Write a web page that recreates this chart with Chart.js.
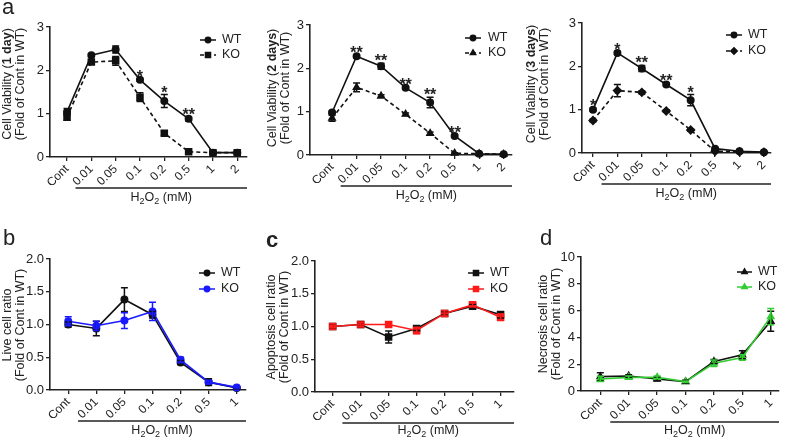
<!DOCTYPE html>
<html>
<head>
<meta charset="utf-8">
<title>Cell viability after H2O2 – WT vs KO</title>
<script src="https://cdn.jsdelivr.net/npm/chart.js@4.4.1/dist/chart.umd.min.js"></script>
<style>
  body { margin: 0; background: #fff; }
  #fig { position: relative; width: 786px; height: 440px; }
  #fig canvas { position: absolute; }
</style>
</head>
<body>
<div id="fig">
  <canvas id="day1" width="262" height="220" style="left:0;top:0"></canvas>
  <canvas id="day2" width="262" height="220" style="left:262px;top:0"></canvas>
  <canvas id="day3" width="262" height="220" style="left:524px;top:0"></canvas>
  <canvas id="live" width="262" height="220" style="left:0;top:220px"></canvas>
  <canvas id="apop" width="262" height="220" style="left:262px;top:220px"></canvas>
  <canvas id="necro" width="262" height="220" style="left:524px;top:220px"></canvas>
</div>
<script>
// ---- data ----
const doseLabels8 = ['Cont', '0.01', '0.05', '0.1', '0.2', '0.5', '1', '2'];
const doseLabels7 = ['Cont', '0.01', '0.05', '0.1', '0.2', '0.5', '1'];

const viabilityTicks = [0, 1, 2, 3];
const ratioTicks = [0, 0.5, 1, 1.5, 2];
const necrosisTicks = [0, 2, 4, 6, 8, 10];

const day1WT = [1.04, 2.35, 2.48, 1.78, 1.29, 0.88, 0.10, 0.10];
const day1WTErr = [0.08, 0.03, 0.08, 0.03, 0.15, 0.05, 0.02, 0.02];
const day1KO = [0.92, 2.19, 2.22, 1.38, 0.55, 0.12, 0.10, 0.10];
const day1KOErr = [0.07, 0.03, 0.10, 0.10, 0.05, 0.02, 0.02, 0.02];
const day1Stars = ['', '', '', '*', '*', '**', '', ''];

const day2WT = [0.98, 2.28, 2.05, 1.55, 1.21, 0.44, 0.03, 0.02];
const day2WTErr = [0.03, 0.03, 0.07, 0.03, 0.12, 0.03, 0.01, 0.01];
const day2KO = [0.85, 1.56, 1.36, 0.94, 0.50, 0.04, 0.03, 0.02];
const day2KOErr = [0.07, 0.10, 0.03, 0.03, 0.03, 0.01, 0.01, 0.01];
const day2Stars = ['', '**', '**', '**', '**', '**', '', ''];

const day3WT = [1.00, 2.31, 1.95, 1.58, 1.22, 0.10, 0.04, 0.02];
const day3WTErr = [0.03, 0.03, 0.07, 0.03, 0.13, 0.02, 0.01, 0.01];
const day3KO = [0.75, 1.44, 1.40, 0.97, 0.53, 0.04, 0.03, 0.02];
const day3KOErr = [0.03, 0.14, 0.03, 0.03, 0.03, 0.01, 0.01, 0.01];
const day3Stars = ['*', '*', '**', '**', '*', '', '', ''];

const liveWT = [1.00, 0.94, 1.38, 1.15, 0.42, 0.12, 0.03];
const liveWTErr = [0.04, 0.11, 0.18, 0.05, 0.03, 0.05, 0.01];
const liveKO = [1.05, 0.98, 1.06, 1.20, 0.46, 0.12, 0.04];
const liveKOErr = [0.07, 0.07, 0.12, 0.14, 0.04, 0.03, 0.01];

const apopWT = [1.00, 1.03, 0.84, 0.97, 1.20, 1.31, 1.18];
const apopWTErr = [0.02, 0.03, 0.09, 0.03, 0.03, 0.03, 0.05];
const apopKO = [1.00, 1.03, 1.03, 0.94, 1.20, 1.33, 1.14];
const apopKOErr = [0.02, 0.03, 0.04, 0.05, 0.04, 0.03, 0.05];

const necroWT = [1.07, 1.12, 0.90, 0.70, 2.20, 2.70, 5.20];
const necroWTErr = [0.30, 0.10, 0.15, 0.10, 0.15, 0.30, 0.75];
const necroKO = [0.90, 1.02, 1.02, 0.70, 2.07, 2.50, 5.55];
const necroKOErr = [0.20, 0.10, 0.10, 0.05, 0.25, 0.20, 0.60];

// ---- styling ----
const FONT = '"Liberation Sans", Arial, sans-serif';
const INK = '#222';
const X_AXIS_H = 28;

Chart.defaults.font.family = FONT;
Chart.defaults.color = INK;

// draw text made of parts (normal / bold / subscript), centred on x
function drawRich(ctx, parts, x, y, size) {
    const fontOf = p => (p.bold ? 'bold ' : '') + (p.sub ? size * 0.72 : size) + 'px ' + FONT;
    let total = 0;
    parts.forEach(p => { ctx.font = fontOf(p); total += ctx.measureText(p.t).width; });
    let cx = x - total / 2;
    ctx.textAlign = 'left';
    ctx.textBaseline = 'middle';
    parts.forEach(p => {
        ctx.font = fontOf(p);
        ctx.fillText(p.t, cx, y + (p.sub ? size * 0.3 : 0));
        cx += ctx.measureText(p.t).width;
    });
}

const h2o2Label = [{t: 'H'}, {t: '2', sub: true}, {t: 'O'}, {t: '2', sub: true}, {t: ' (mM)'}];

// error bars, stars, legend, bracket and titles
const panelDecor = {
    id: 'panelDecor',
    afterDatasetsDraw(chart, args, opts) {
        const ctx = chart.ctx;
        const xs = chart.scales.x, ys = chart.scales.y;
        const area = chart.chartArea;
        const sets = chart.data.datasets;
        ctx.save();
        ctx.setLineDash([]);

        // error bars (WT first, KO on top)
        sets.forEach(ds => {
            ctx.strokeStyle = ds.borderColor;
            ctx.lineWidth = 1.5;
            ds.values.forEach((v, i) => {
                const e = ds.errors[i];
                const px = xs.getPixelForValue(i);
                const top = ys.getPixelForValue(v + e);
                const bot = ys.getPixelForValue(Math.max(v - e, 0));
                ctx.beginPath();
                ctx.moveTo(px, top); ctx.lineTo(px, bot);
                ctx.moveTo(px - 3.5, top); ctx.lineTo(px + 3.5, top);
                ctx.moveTo(px - 3.5, bot); ctx.lineTo(px + 3.5, bot);
                ctx.stroke();
            });
        });

        // significance stars
        if (opts.stars) {
            ctx.fillStyle = INK;
            ctx.font = 'bold 16px ' + FONT;
            ctx.textAlign = 'center';
            ctx.textBaseline = 'alphabetic';
            opts.stars.forEach((s, i) => {
                if (!s) return;
                const top = Math.max(...sets.map(ds => ds.values[i] + ds.errors[i]));
                ctx.fillText(s, xs.getPixelForValue(i), ys.getPixelForValue(top) + 3);
            });
        }

        // legend
        const lg = opts.legend;
        sets.forEach((ds, k) => {
            const y = lg.y + k * lg.dy;
            ctx.strokeStyle = ds.borderColor;
            ctx.fillStyle = ds.borderColor;
            ctx.lineWidth = 1.5;
            ctx.setLineDash(ds.borderDash || []);
            ctx.beginPath();
            ctx.moveTo(lg.x0, y); ctx.lineTo(lg.x1, y);
            ctx.stroke();
            ctx.setLineDash([]);
            Chart.helpers.drawPoint(ctx, {pointStyle: ds.pointStyle, radius: ds.pointRadius * 0.85, rotation: 0, borderWidth: 1}, (lg.x0 + lg.x1) / 2, y);
            ctx.fillStyle = INK;
            ctx.font = '12.5px ' + FONT;
            ctx.textAlign = 'left';
            ctx.textBaseline = 'middle';
            ctx.fillText(ds.label, lg.tx, y);
        });

        // bracket + H2O2 label under the dose ticks
        const by = area.bottom + 31;
        const bx0 = xs.getPixelForValue(0.35);
        ctx.strokeStyle = INK;
        ctx.lineWidth = 1.3;
        ctx.beginPath();
        ctx.moveTo(bx0, by); ctx.lineTo(area.right, by);
        ctx.stroke();
        ctx.fillStyle = INK;
        drawRich(ctx, h2o2Label, (bx0 + area.right) / 2, Math.min(by + 10, 211), 12.5);

        // y title (two lines, rotated)
        const yt = opts.yTitle;
        [yt.line1, yt.line2].forEach((parts, k) => {
            ctx.save();
            ctx.translate(yt.x[k], yt.cy);
            ctx.rotate(-Math.PI / 2);
            drawRich(ctx, parts, 0, 0, 12.5);
            ctx.restore();
        });

        // panel letter
        if (opts.letter) {
            ctx.font = opts.letter.weight + ' 22px ' + FONT;
            ctx.textAlign = 'left';
            ctx.textBaseline = 'alphabetic';
            ctx.fillText(opts.letter.t, opts.letter.x, opts.letter.y);
        }
        ctx.restore();
    }
};
Chart.register(panelDecor);

function series(label, values, errors, color, style, radius, dash, order) {
    return {
        label: label,
        values: values,
        errors: errors,
        data: values.map((v, i) => ({x: i, y: v})),
        borderColor: color,
        backgroundColor: color,
        pointBackgroundColor: color,
        pointBorderColor: color,
        pointStyle: style,
        pointRadius: radius,
        borderWidth: 1.6,
        borderDash: dash,
        tension: 0,
        clip: false,
        order: order
    };
}

function makePanel(id, p) {
    const f = p.frame;
    const W = 262, H = 220;
    return new Chart(document.getElementById(id), {
        type: 'line',
        data: {datasets: p.datasets},
        options: {
            responsive: false,
            animation: false,
            events: [],
            layout: {padding: {left: 0, top: f.top, right: W - f.right, bottom: H - f.bottom - X_AXIS_H}},
            plugins: {
                legend: {display: false},
                tooltip: {enabled: false},
                panelDecor: {stars: p.stars, legend: p.legend, yTitle: p.yTitle, letter: p.letter}
            },
            scales: {
                x: {
                    type: 'linear',
                    min: f.xMin,
                    max: f.xMax,
                    afterBuildTicks: s => { s.ticks = p.cats.map((c, i) => ({value: i})); },
                    afterFit: s => { s.height = X_AXIS_H; },
                    ticks: {autoSkip: false, minRotation: 45, maxRotation: 45, padding: 1,
                        font: {size: 12}, color: INK, callback: v => p.cats[v]},
                    grid: {drawOnChartArea: false, drawTicks: true, tickLength: 4, color: INK, lineWidth: 1.3},
                    border: {color: INK, width: 1.6}
                },
                y: {
                    type: 'linear',
                    min: p.yTicks[0],
                    max: p.yTicks[p.yTicks.length - 1],
                    afterBuildTicks: s => { s.ticks = p.yTicks.map(v => ({value: v})); },
                    afterFit: s => { s.width = f.left; },
                    ticks: {padding: 2, font: {size: 13}, color: INK, callback: p.yFmt},
                    grid: {drawOnChartArea: false, drawTicks: true, tickLength: 4, color: INK, lineWidth: 1.3},
                    border: {color: INK, width: 1.6}
                }
            }
        }
    });
}

const intFmt = v => String(v);
const oneDec = v => v.toFixed(1);
const foldLine = [{t: '(Fold of Cont in WT)'}];
const dash = [4, 3];

makePanel('day1', {
    cats: doseLabels8, yTicks: viabilityTicks, yFmt: intFmt, stars: day1Stars,
    frame: {left: 50, right: 247, top: 27, bottom: 157, xMin: -0.7, xMax: 7.4},
    datasets: [
        series('WT', day1WT, day1WTErr, '#111', 'circle', 3.2, [], 1),
        series('KO', day1KO, day1KOErr, '#111', 'rect', 4.2, dash, 0)
    ],
    legend: {x0: 200, x1: 216, tx: 222, y: 40, dy: 15},
    yTitle: {x: [8, 21], cy: 84, line1: [{t: 'Cell Viability ('}, {t: '1 day', bold: true}, {t: ')'}], line2: foldLine},
    letter: {t: 'a', x: 2, y: 14, weight: 'normal'}
});

makePanel('day2', {
    cats: doseLabels8, yTicks: viabilityTicks, yFmt: intFmt, stars: day2Stars,
    frame: {left: 48, right: 250, top: 25, bottom: 155, xMin: -0.9, xMax: 7.34},
    datasets: [
        series('WT', day2WT, day2WTErr, '#111', 'circle', 3.2, [], 1),
        series('KO', day2KO, day2KOErr, '#111', 'triangle', 3.6, dash, 0)
    ],
    legend: {x0: 203, x1: 219, tx: 226, y: 38, dy: 15},
    yTitle: {x: [11, 24], cy: 88, line1: [{t: 'Cell Viability ('}, {t: '2 days', bold: true}, {t: ')'}], line2: foldLine}
});

makePanel('day3', {
    cats: doseLabels8, yTicks: viabilityTicks, yFmt: intFmt, stars: day3Stars,
    frame: {left: 58, right: 247, top: 23, bottom: 153, xMin: -0.45, xMax: 7.29},
    datasets: [
        series('WT', day3WT, day3WTErr, '#111', 'circle', 3.2, [], 1),
        series('KO', day3KO, day3KOErr, '#111', 'rectRot', 3.8, dash, 0)
    ],
    legend: {x0: 202, x1: 218, tx: 224, y: 35, dy: 16},
    yTitle: {x: [8, 21], cy: 84, line1: [{t: 'Cell Viability ('}, {t: '3 days', bold: true}, {t: ')'}], line2: foldLine}
});

makePanel('live', {
    cats: doseLabels7, yTicks: ratioTicks, yFmt: oneDec,
    frame: {left: 50, right: 246, top: 39, bottom: 170, xMin: -0.65, xMax: 6.33},
    datasets: [
        series('WT', liveWT, liveWTErr, '#111', 'circle', 3.2, [], 1),
        series('KO', liveKO, liveKOErr, '#1a1aff', 'circle', 3.2, [], 0)
    ],
    legend: {x0: 199, x1: 215, tx: 221, y: 53, dy: 16},
    yTitle: {x: [8, 21], cy: 105, line1: [{t: 'Live cell ratio'}], line2: foldLine},
    letter: {t: 'b', x: 3, y: 25, weight: 'normal'}
});

makePanel('apop', {
    cats: doseLabels7, yTicks: ratioTicks, yFmt: oneDec,
    frame: {left: 53, right: 252, top: 41, bottom: 172, xMin: -0.63, xMax: 6.48},
    datasets: [
        series('WT', apopWT, apopWTErr, '#111', 'rect', 4.2, [], 1),
        series('KO', apopKO, apopKOErr, '#ff1a1a', 'rect', 4.2, [], 0)
    ],
    legend: {x0: 206, x1: 222, tx: 228, y: 53, dy: 16},
    yTitle: {x: [10, 23], cy: 107, line1: [{t: 'Apoptosis cell ratio'}], line2: foldLine},
    letter: {t: 'c', x: 4, y: 27, weight: 'bold'}
});

makePanel('necro', {
    cats: doseLabels7, yTicks: necrosisTicks, yFmt: intFmt,
    frame: {left: 57, right: 255, top: 37, bottom: 171, xMin: -0.68, xMax: 6.29},
    datasets: [
        series('WT', necroWT, necroWTErr, '#111', 'triangle', 3.6, [], 1),
        series('KO', necroKO, necroKOErr, '#33cc33', 'triangle', 3.6, [], 0)
    ],
    legend: {x0: 213, x1: 228, tx: 234, y: 52, dy: 15},
    yTitle: {x: [20, 33], cy: 104, line1: [{t: 'Necrosis cell ratio'}], line2: foldLine},
    letter: {t: 'd', x: 16, y: 25, weight: 'normal'}
});
</script>
</body>
</html>
